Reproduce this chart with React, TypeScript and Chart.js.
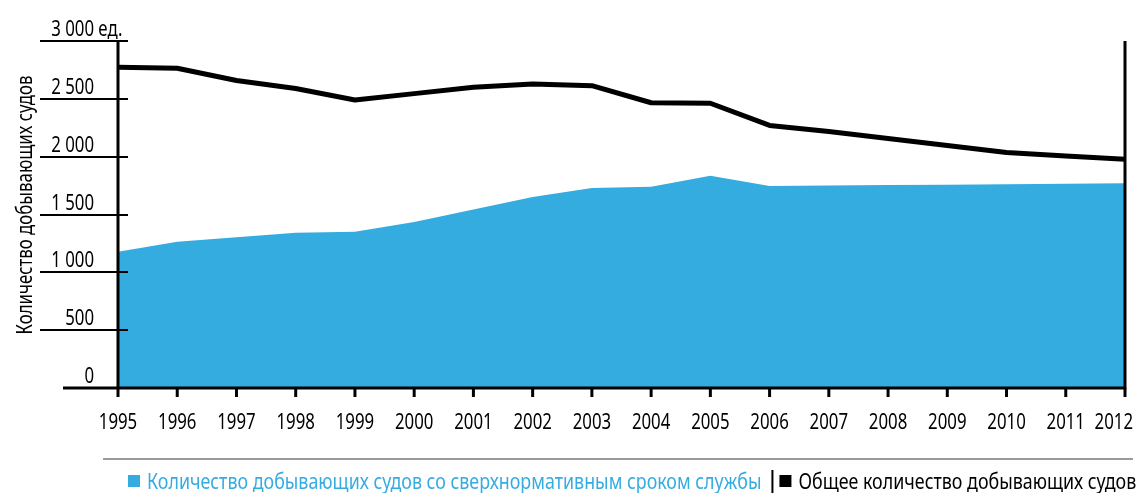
import React, { useEffect, useRef } from "react";
import { Chart, registerables } from "chart.js";

Chart.register(...registerables);

const years = ["1995","1996","1997","1998","1999","2000","2001","2002","2003","2004","2005","2006","2007","2008","2009","2010","2011","2012"];
const totalVessels = [2772, 2765, 2658, 2589, 2490, 2545, 2601, 2628, 2614, 2466, 2462, 2270, 2217, 2157, 2096, 2036, 2005, 1977];
const overageVessels = [1178, 1264, 1303, 1342, 1350, 1435, 1543, 1651, 1729, 1740, 1835, 1746, 1750, 1754, 1758, 1762, 1766, 1770];
const yTickValues = [0, 500, 1000, 1500, 2000, 2500, 3000];
const yTickLabels = ["0", "500", "1 000", "1 500", "2 000", "2 500", "3 000"];
const yUnit = " ед.";
const yTitle = "Количество добывающих судов";
const legendOverage = "Количество добывающих судов со сверхнормативным сроком службы";
const legendTotal = "Общее количество добывающих судов";

const BLUE = "#35ACE0";
const FONT = "'Noto Sans', 'Open Sans', sans-serif";
const SX = 0.8;
const LSX = 0.85;

function drawText(ctx: any, text: string, x: number, y: number, align: string, color = "#000", sx = SX) {
  ctx.save();
  ctx.translate(x, y);
  ctx.scale(sx, 1);
  ctx.textAlign = align;
  ctx.fillStyle = color;
  ctx.fillText(text, 0, 0);
  ctx.restore();
}

const axesPlugin = {
  id: "customAxes",
  afterDatasetsDraw(chart: any) {
    const ctx = chart.ctx;
    const { left, right, top, bottom } = chart.chartArea;
    const ys = chart.scales.y;
    const xs = chart.scales.x;
    ctx.save();
    ctx.strokeStyle = "#000";
    ctx.fillStyle = "#000";
    // y tick lines
    yTickValues.forEach((v) => {
      const y = Math.round(ys.getPixelForValue(v));
      ctx.beginPath();
      if (v === 0) {
        ctx.lineWidth = 3;
        ctx.moveTo(63, y);
        ctx.lineTo(right, y);
      } else {
        ctx.lineWidth = 2;
        ctx.moveTo(40, y);
        ctx.lineTo(128, y);
      }
      ctx.stroke();
    });
    // left axis
    ctx.lineWidth = 3;
    ctx.beginPath();
    ctx.moveTo(left, top);
    ctx.lineTo(left, bottom + 9);
    ctx.stroke();
    // right axis
    ctx.beginPath();
    ctx.moveTo(right, top);
    ctx.lineTo(right, bottom + 1);
    ctx.stroke();
    // x ticks and labels
    ctx.font = `21px ${FONT}`;
    ctx.textBaseline = "alphabetic";
    years.forEach((yr, i) => {
      const x = xs.getPixelForValue(i);
      if (i > 0) {
        ctx.lineWidth = 3;
        ctx.beginPath();
        ctx.moveTo(x, bottom);
        ctx.lineTo(x, bottom + 9);
        ctx.stroke();
      }
      const w = ctx.measureText(yr).width * SX;
      let cx = x;
      if (cx + w / 2 > 1133) cx = 1133 - w / 2;
      drawText(ctx, yr, cx, 429, "center");
    });
    // y labels
    yTickValues.forEach((v, i) => {
      const y = ys.getPixelForValue(v);
      const label = yTickLabels[i];
      if (i === yTickValues.length - 1) {
        const w = ctx.measureText(label).width * SX;
        drawText(ctx, label + yUnit, 94 - w, y - 5, "left");
      } else {
        drawText(ctx, label, 94, y - 5, "right");
      }
    });
    // y title
    ctx.save();
    ctx.translate(26, 205);
    ctx.rotate(-Math.PI / 2);
    ctx.textAlign = "center";
    ctx.textBaseline = "middle";
    ctx.scale(SX, 1);
    ctx.fillText(yTitle, 0, 0);
    ctx.restore();

    // legend
    ctx.fillStyle = "#9a9a9a";
    ctx.fillRect(103, 458, 1030, 2);
    ctx.fillStyle = BLUE;
    ctx.fillRect(128, 475, 12, 12);
    const t1x = 147;
    drawText(ctx, legendOverage, t1x, 489, "left", BLUE, LSX);
    const t1w = ctx.measureText(legendOverage).width * LSX;
    const sepX = t1x + t1w + 10;
    ctx.fillStyle = "#000";
    ctx.fillRect(sepX, 470, 2, 23);
    ctx.fillRect(sepX + 8, 475, 12, 12);
    drawText(ctx, legendTotal, sepX + 27, 489, "left", "#000", LSX);
    ctx.restore();
  },
};

export default function App() {
  const ref = useRef<HTMLCanvasElement | null>(null);
  useEffect(() => {
    if (!ref.current) return;
    const chart = new Chart(ref.current, {
      type: "line",
      data: {
        labels: years,
        datasets: [
          {
            label: legendTotal,
            data: totalVessels,
            borderColor: "#000",
            borderWidth: 5,
            pointRadius: 0,
            fill: false,
            tension: 0,
            borderJoinStyle: "round",
          },
          {
            label: legendOverage,
            data: overageVessels,
            borderColor: BLUE,
            borderWidth: 0,
            backgroundColor: BLUE,
            pointRadius: 0,
            fill: "origin",
            tension: 0,
          },
        ],
      },
      options: {
        responsive: false,
        animation: false,
        layout: { padding: { left: 118, right: 13, top: 41, bottom: 105 } },
        plugins: { legend: { display: false }, tooltip: { enabled: false } },
        scales: {
          x: { display: false, offset: false },
          y: { display: false, min: 0, max: 3000 },
        },
      },
      plugins: [axesPlugin],
    } as any);
    return () => chart.destroy();
  }, []);

  return (
    <div style={{ position: "fixed", left: 0, top: 0, width: 1138, height: 493, background: "#fff" }}>
      <canvas ref={ref} width={1138} height={493} style={{ position: "absolute", left: 0, top: 0 }} />
    </div>
  );
}
